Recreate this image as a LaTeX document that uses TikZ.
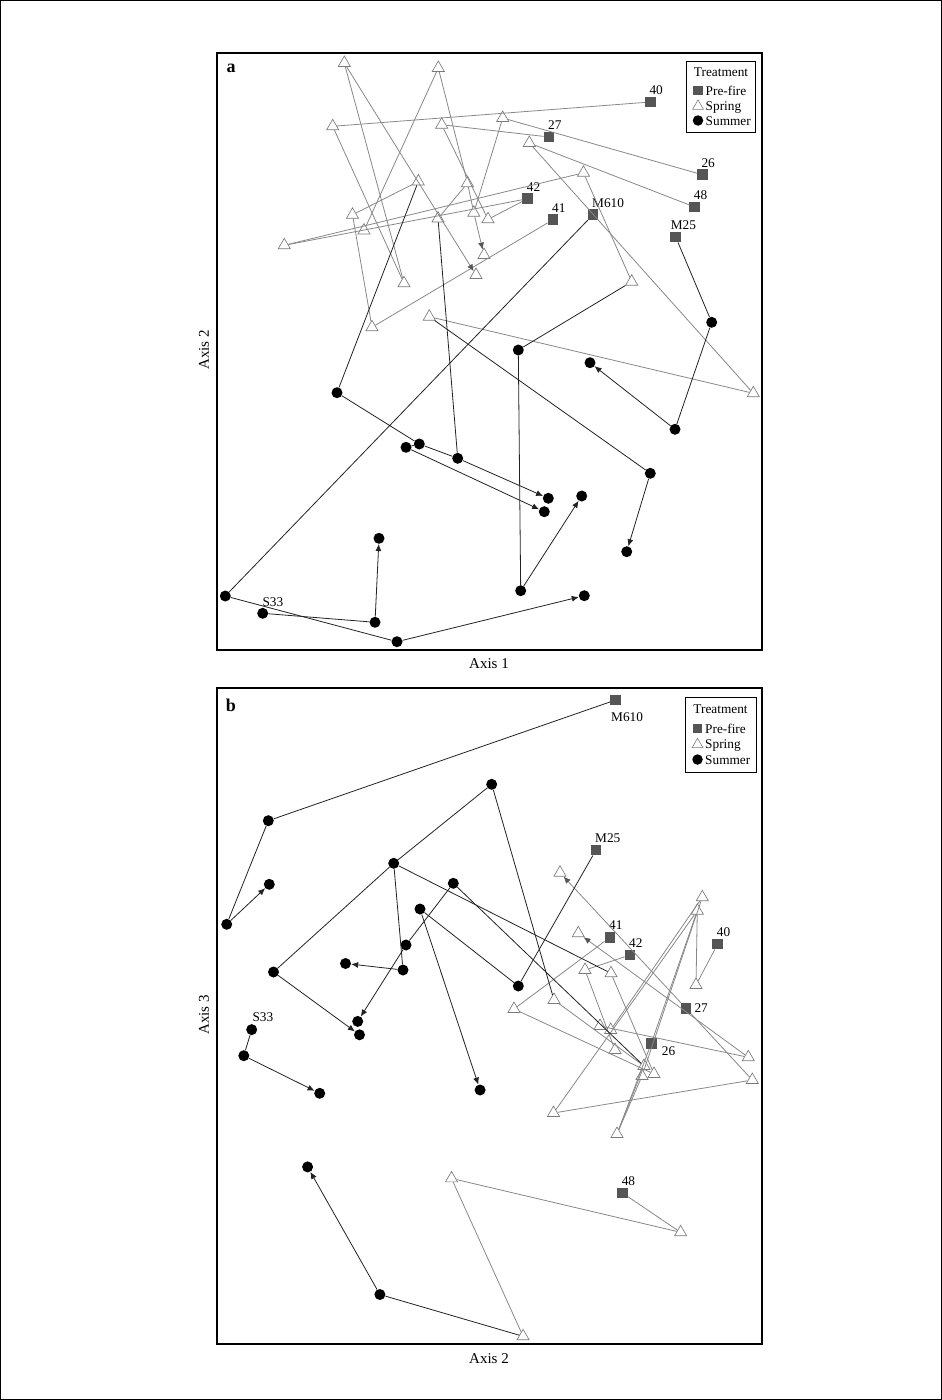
\documentclass[tikz,border=0pt]{standalone}
\usepackage{fontspec}
\setmainfont{Liberation Serif}
\usetikzlibrary{shapes.geometric,arrows.meta}
\definecolor{prefill}{HTML}{555555}
\definecolor{sprline}{HTML}{7A7A7A}
\definecolor{glcol}{HTML}{888888}
\definecolor{dlcol}{HTML}{222222}
\definecolor{garrcol}{HTML}{555555}
\begin{document}
\begin{tikzpicture}[x=1pt,y=-1pt,
  pre/.style={rectangle,fill=prefill,minimum size=10.5pt,inner sep=0pt},
  spr/.style={regular polygon,regular polygon sides=3,draw=sprline,line width=0.65pt,minimum size=14pt,inner sep=0pt},
  sum/.style={circle,fill=black,minimum size=11pt,inner sep=0pt},
  gl/.style={draw=glcol,line width=0.8pt},
  dl/.style={draw=dlcol,line width=0.8pt},
  garr/.style={gl,-{Latex[length=7pt,width=6pt,color=garrcol]}},
  darr/.style={dl,-{Latex[length=7pt,width=6pt]}},
  lab/.style={font=\fontsize{13.3}{15}\selectfont,inner sep=0pt},
  axl/.style={font=\fontsize{15}{17}\selectfont,inner sep=0pt},
  pan/.style={font=\fontsize{18}{20}\selectfont\bfseries,inner sep=0pt},
  box/.style={draw=black,line width=1.4pt},
  legbox/.style={draw=black,line width=0.8pt},
  lpre/.style={rectangle,fill=prefill,minimum size=9.5pt,inner sep=0pt},
  lspr/.style={regular polygon,regular polygon sides=3,draw=sprline,line width=0.6pt,minimum size=12.5pt,inner sep=0pt},
  lsum/.style={circle,fill=black,minimum size=10.5pt,inner sep=0pt}
  ]
\useasboundingbox (0,0) rectangle (942,1400);
\draw[line width=1.2pt] (0.6,0.6) rectangle (941.4,1399.4);

% ---------------- panel a ----------------
\draw[box] (217,53) rectangle (762,650);
\node[pan] (pa) at (231,68.7) {a};
\node[axl] (ax1) at (489,664) {Axis 1};
\node[axl,rotate=90] (ax2a) at (204,350) {Axis 2};

\foreach \n/\x/\y in {aA1/344.3/63, aA2/438.3/68, aA3/332.7/126.3, aA4/441.7/124.7, aA5/418.3/181.5, aA6/467.5/183.2, aA7/352.5/214.8, aA8/438/218.5, aA9/473.8/212.8, aA10/488/219.3, aA11/364/230.5, aA12/284.3/245.3, aA13/631.7/281.7, aA14/753.3/393.3, aA15/429.3/316.7, aA16/484/255, aA17/476/275, aA18/404/283.3, aA19/372/327.3, aB1/502.7/118, aB2/529.3/143, aB3/583.5/172.8}
  \node[spr] (\n) at (\x,\y) {};
\foreach \n/\x/\y in {aP40/650.3/102, aP27/549/137, aP26/702.3/174.7, aP48/694.7/207, aP42/527.7/198.7, aP41/553/219.7, aPM610/593/214.7, aPM25/675.7/237}
  \node[pre] (\n) at (\x,\y) {};
\foreach \n/\x/\y in {aD337/337/392.7, aD406/406/447.3, aD419/419.3/444, aD458/457.7/458.3, aD518/518.3/350, aD521/520.7/590.7, aD582/581.7/496, aD650/650.3/473.3, aD627/626.7/551.7, aD711/711.7/322.3, aD675/675/429.3, aD590/590/362.7, aD225/225.3/596, aD397/397/641.7, aD584/584.3/595.7, aDS33/262.7/613.3, aD375/375/622.3, aD379/379/538.3, aD549/548.3/498.3, aD544/544.3/511.7}
  \node[sum] (\n) at (\x,\y) {};

\foreach \n/\x/\y/\t in {aL40/649.3/94.5/40, aL27/548/129.5/27, aL26/701.3/167.2/26, aL48/693.7/199.5/48, aL42/526.7/191.2/42, aL41/552/212.2/41, aLM610/592/207.2/M610, aLM25/670.7/229.5/M25, aLS33/262.3/606.2/S33}
  \node[lab,anchor=base west] (\n) at (\x,\y) {\t};

\foreach \a/\b in {aP40/aA3, aA3/aA18, aA18/aA1, aP27/aA4, aA4/aA10, aA10/aP42, aP26/aB1, aB1/aA9, aA2/aA6, aA6/aA8, aA6/aA9, aA2/aA11, aA12/aP42, aA12/aB3, aB3/aA13, aP48/aB2, aB2/aA14, aA14/aA15, aP41/aA19, aA19/aA7, aA7/aA5}
  \draw[gl] (\a) -- (\b);
\foreach \a/\b in {aA1/aA17, aA9/aA16}
  \draw[garr] (\a) -- (\b);
\foreach \a/\b in {aA5/aD337, aD337/aD419, aD419/aD406, aD419/aD458, aA8/aD458, aA13/aD518, aD518/aD521, aA15/aD650, aPM25/aD711, aD711/aD675, aPM610/aD225, aD225/aD397, aDS33/aD375}
  \draw[dl] (\a) -- (\b);
\foreach \a/\b in {aD406/aD544, aD458/aD549, aD521/aD582, aD650/aD627, aD675/aD590, aD397/aD584, aD375/aD379}
  \draw[darr] (\a) -- (\b);

% legend a
\draw[legbox] (686,61) rectangle (755,132);
\node[lab] (aLT) at (721,72.5) {Treatment};
\node[lpre] (aLs1) at (698,90.7) {};
\node[lspr] (aLs2) at (698,106.2) {};
\node[lsum] (aLs3) at (698,120.5) {};
\node[lab,anchor=base west] (aLt1) at (705.5,95.2) {Pre-fire};
\node[lab,anchor=base west] (aLt2) at (705.5,110.2) {Spring};
\node[lab,anchor=base west] (aLt3) at (705.5,125) {Summer};

% ---------------- panel b ----------------
\draw[box] (217,688) rectangle (762,1344);
\node[pan] (pb) at (231,705) {b};
\node[axl] (ax2b) at (489,1359) {Axis 2};
\node[axl,rotate=90] (ax3) at (204,1015) {Axis 3};

\foreach \n/\x/\y in {bF1/560/872.7, bF2/578.3/933.3, bF3/702.3/897.3, bF4/697.3/910.7, bF5/585/970, bF6/611/973.3, bF7/696/985, bF8/554/1000, bF9/514/1009, bF10/600/1026, bF11/610.7/1030, bF12/615/1050, bF13/644/1066, bF14/654/1074, bF15/642/1076, bF16/748.3/1057.3, bF17/752.3/1080, bF18/553.5/1113, bF19/617/1134, bG1/451.5/1178.4, bG2/523.1/1336.3, bG3/680.6/1232.3}
  \node[spr] (\n) at (\x,\y) {};
\foreach \n/\x/\y in {bPM610/615.7/700, bPM25/596/850, bP41/610/937.3, bP42/630/955, bP40/717.7/944, bP27/686/1008.3, bP26/651.3/1043.3, bP48/622.6/1193.1}
  \node[pre] (\n) at (\x,\y) {};
\foreach \n/\x/\y in {bE1/268.3/820.7, bE2/491.7/784.3, bE3/393.7/863.3, bE4/269.3/884.3, bE5/226.7/924.3, bE6/453.3/883.3, bE7/420/909, bE8/406/945, bE9/345.5/963.5, bE10/403/970, bE11/273.5/972, bE12/518.3/986, bE13/357.7/1021.4, bE14/359.5/1034.8, bES33/251.7/1029.6, bE16/243.8/1055.7, bE17/319.7/1093.3, bE18/480.1/1090, bE19/307.6/1166.9, bE20/379.9/1294.5}
  \node[sum] (\n) at (\x,\y) {};

\foreach \n/\x/\y/\t in {bLM610/611/721.5/M610, bLM25/595/842.5/M25, bL41/609/929.8/41, bL42/629/947.5/42, bL40/716.7/936.5/40, bL27/694.3/1012.8/27, bL26/661.7/1055.2/26, bL48/621.6/1185.6/48, bLS33/252.4/1021/S33}
  \node[lab,anchor=base west] (\n) at (\x,\y) {\t};

\foreach \a/\b in {bP41/bF9, bF9/bF14, bP42/bF5, bF5/bF12, bF6/bF14, bF8/bF13, bF19/bF13, bF19/bF15, bF18/bF4, bF18/bF17, bP27/bF17, bF16/bF10, bF11/bF3, bF3/bF15, bF4/bF7, bP26/bF4, bP26/bF19, bP40/bF7, bP48/bG3, bG3/bG1, bG1/bG2}
  \draw[gl] (\a) -- (\b);
\foreach \a/\b in {bP27/bF1, bF16/bF2}
  \draw[garr] (\a) -- (\b);
\foreach \a/\b in {bPM610/bE1, bE1/bE5, bE2/bE3, bE3/bE11, bE3/bE10, bE6/bE8, bE2/bF8, bE3/bF6, bE6/bF13, bPM25/bE12, bE12/bE7, bES33/bE16, bG2/bE20}
  \draw[dl] (\a) -- (\b);
\foreach \a/\b in {bE5/bE4, bE11/bE14, bE10/bE9, bE8/bE13, bE7/bE18, bE16/bE17, bE20/bE19}
  \draw[darr] (\a) -- (\b);

% legend b
\draw[legbox] (685,697) rectangle (756,772);
\node[lab] (bLT) at (720.5,709) {Treatment};
\node[lpre] (bLs1) at (697.5,728.5) {};
\node[lspr] (bLs2) at (697.5,744.5) {};
\node[lsum] (bLs3) at (697.5,759.5) {};
\node[lab,anchor=base west] (bLt1) at (705,733) {Pre-fire};
\node[lab,anchor=base west] (bLt2) at (705,748.5) {Spring};
\node[lab,anchor=base west] (bLt3) at (705,764) {Summer};
\end{tikzpicture}
\end{document}
